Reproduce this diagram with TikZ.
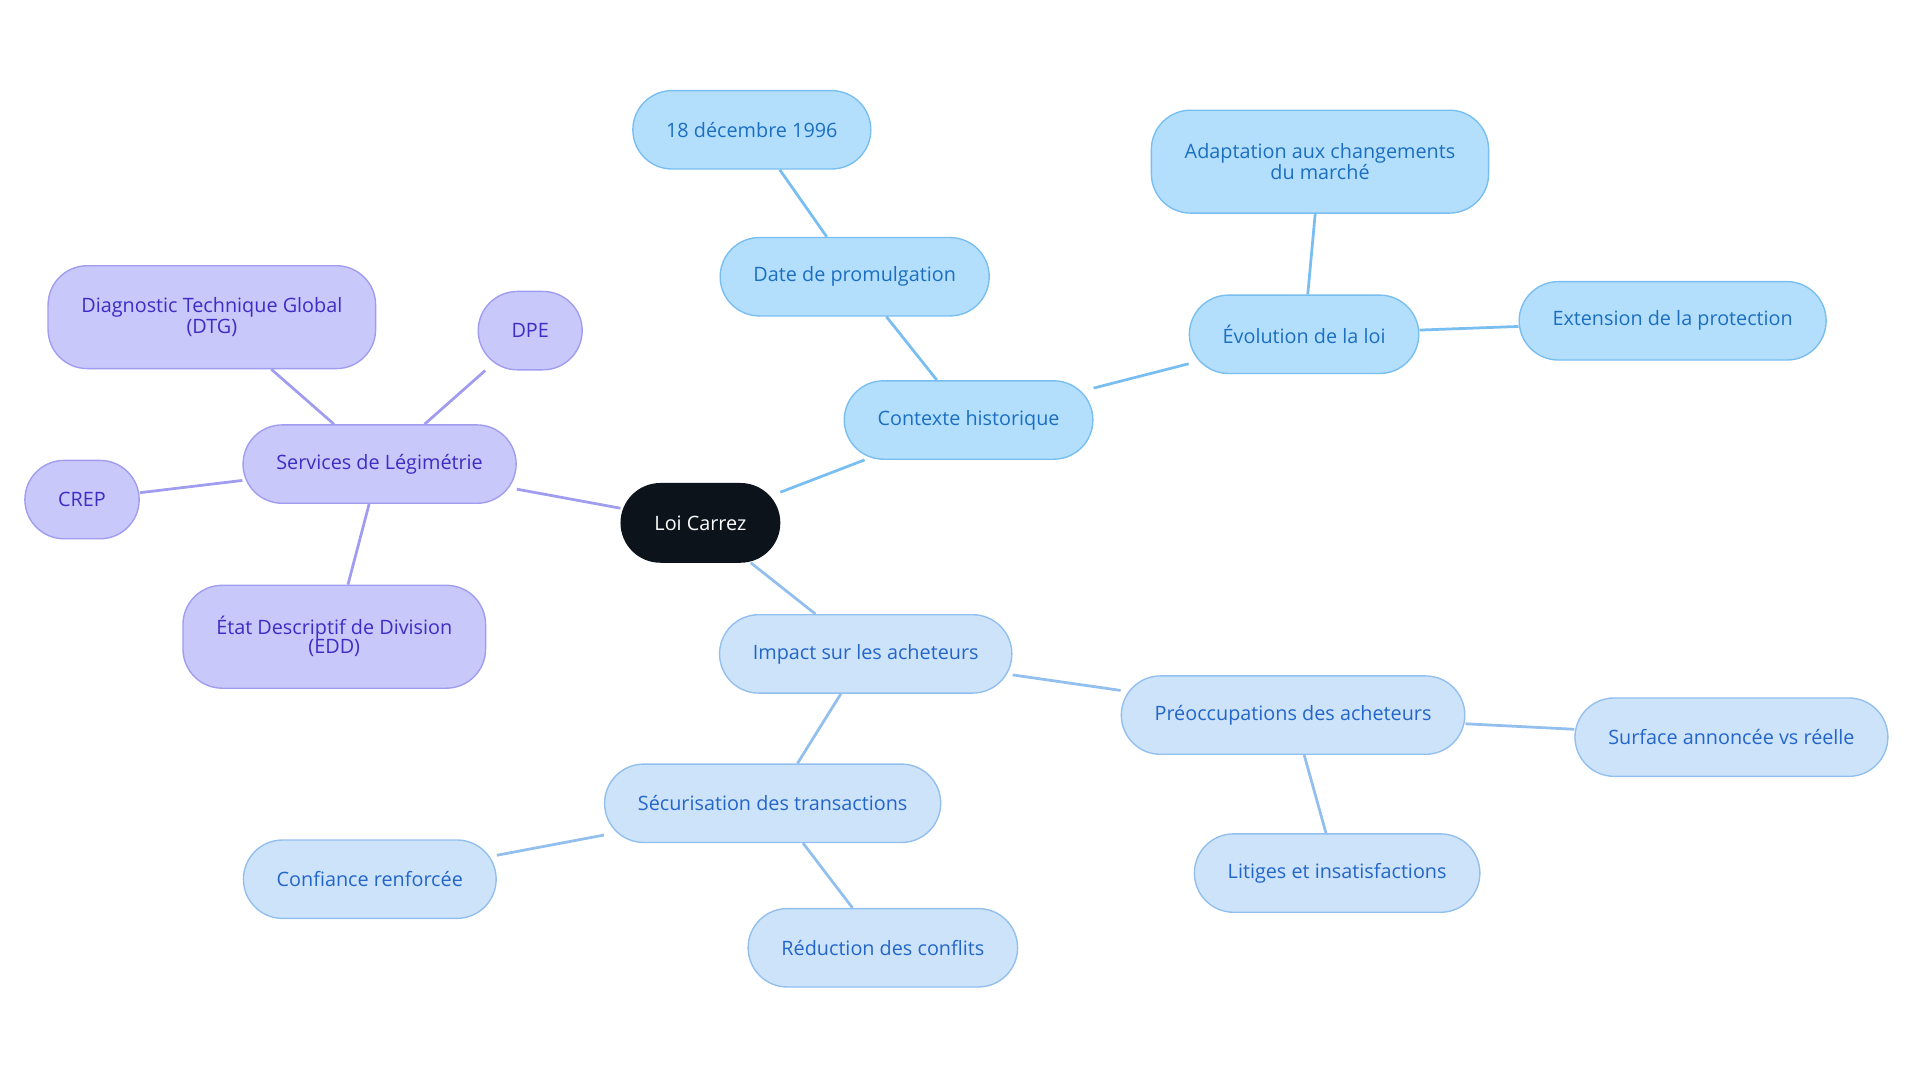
\documentclass[tikz,border=0pt]{standalone}
\usepackage{fontspec}
\setmainfont{Open Sans}
\usetikzlibrary{positioning}
\definecolor{rootfill}{HTML}{0D131B}
\definecolor{histfill}{HTML}{B3DFFD}
\definecolor{histline}{HTML}{79BEF0}
\definecolor{histtext}{HTML}{1C6FC0}
\definecolor{impfill}{HTML}{CDE3FA}
\definecolor{impline}{HTML}{92BFEE}
\definecolor{imptext}{HTML}{2366C9}
\definecolor{servfill}{HTML}{C9C8FB}
\definecolor{servline}{HTML}{A09CF0}
\definecolor{servtext}{HTML}{3A2EC4}
\begin{document}
\begin{tikzpicture}[x=0.025cm, y=-0.025cm]
    % Define block styles
    \tikzset{
      pill/.style={rectangle, rounded corners=0.8cm, draw, line width=0.8pt, minimum height=1.6cm, inner xsep=0.68cm, align=center, font=\fontsize{11.5}{11}\selectfont},
      root/.style={pill, fill=rootfill, draw=rootfill, text=white},
      hist/.style={pill, fill=histfill, draw=histline, text=histtext},
      imp/.style={pill, fill=impfill, draw=impline, text=imptext},
      serv/.style={pill, fill=servfill, draw=servline, text=servtext},
      hline/.style={draw=histline, line width=1.6pt},
      iline/.style={draw=impline, line width=1.6pt},
      sline/.style={draw=servline, line width=1.6pt}
    }
    \useasboundingbox (0,0) rectangle (1568,884);

    % Nodes
    \node [root] (loi carrez) at (572,427) {Loi Carrez};
    \node [hist] (contexte) at (791,343) {Contexte historique};
    \node [hist] (date) at (698,226) {Date de promulgation};
    \node [hist] (decembre) at (614,106) {18 décembre 1996};
    \node [hist] (evolution) at (1065,273) {Évolution de la loi};
    \node [hist, minimum height=2.1cm] (adaptation) at (1078,132) {Adaptation aux changements\\du marché};
    \node [hist] (extension) at (1366,262) {Extension de la protection};
    \node [imp] (impact) at (707,534) {Impact sur les acheteurs};
    \node [imp] (preoccupations) at (1056,584) {Préoccupations des acheteurs};
    \node [imp] (surface) at (1414,602) {Surface annoncée vs réelle};
    \node [imp] (litiges) at (1092,713) {Litiges et insatisfactions};
    \node [imp] (securisation) at (631,656) {Sécurisation des transactions};
    \node [imp] (confiance) at (302,718) {Confiance renforcée};
    \node [imp] (reduction) at (721,774) {Réduction des conflits};
    \node [serv] (services) at (310,379) {Services de Légimétrie};
    \node [serv, minimum height=2.1cm] (dtg) at (173,259) {Diagnostic Technique Global\\(DTG)};
    \node [serv] (dpe) at (433,270) {DPE};
    \node [serv] (crep) at (67,408) {CREP};
    \node [serv, minimum height=2.1cm] (edd) at (273,520) {État Descriptif de Division\\(EDD)};

    % Connecting lines
    \begin{scope}[on background layer/.style={}]
    \path [hline] (loi carrez) -- (contexte);
    \path [hline] (contexte) -- (date);
    \path [hline] (date) -- (decembre);
    \path [hline] (contexte) -- (evolution);
    \path [hline] (evolution) -- (adaptation);
    \path [hline] (evolution) -- (extension);
    \path [iline] (loi carrez) -- (impact);
    \path [iline] (impact) -- (preoccupations);
    \path [iline] (preoccupations) -- (surface);
    \path [iline] (preoccupations) -- (litiges);
    \path [iline] (impact) -- (securisation);
    \path [iline] (securisation) -- (confiance);
    \path [iline] (securisation) -- (reduction);
    \path [sline] (loi carrez) -- (services);
    \path [sline] (services) -- (dtg);
    \path [sline] (services) -- (dpe);
    \path [sline] (services) -- (crep);
    \path [sline] (services) -- (edd);
    \end{scope}
\end{tikzpicture}
\end{document}
